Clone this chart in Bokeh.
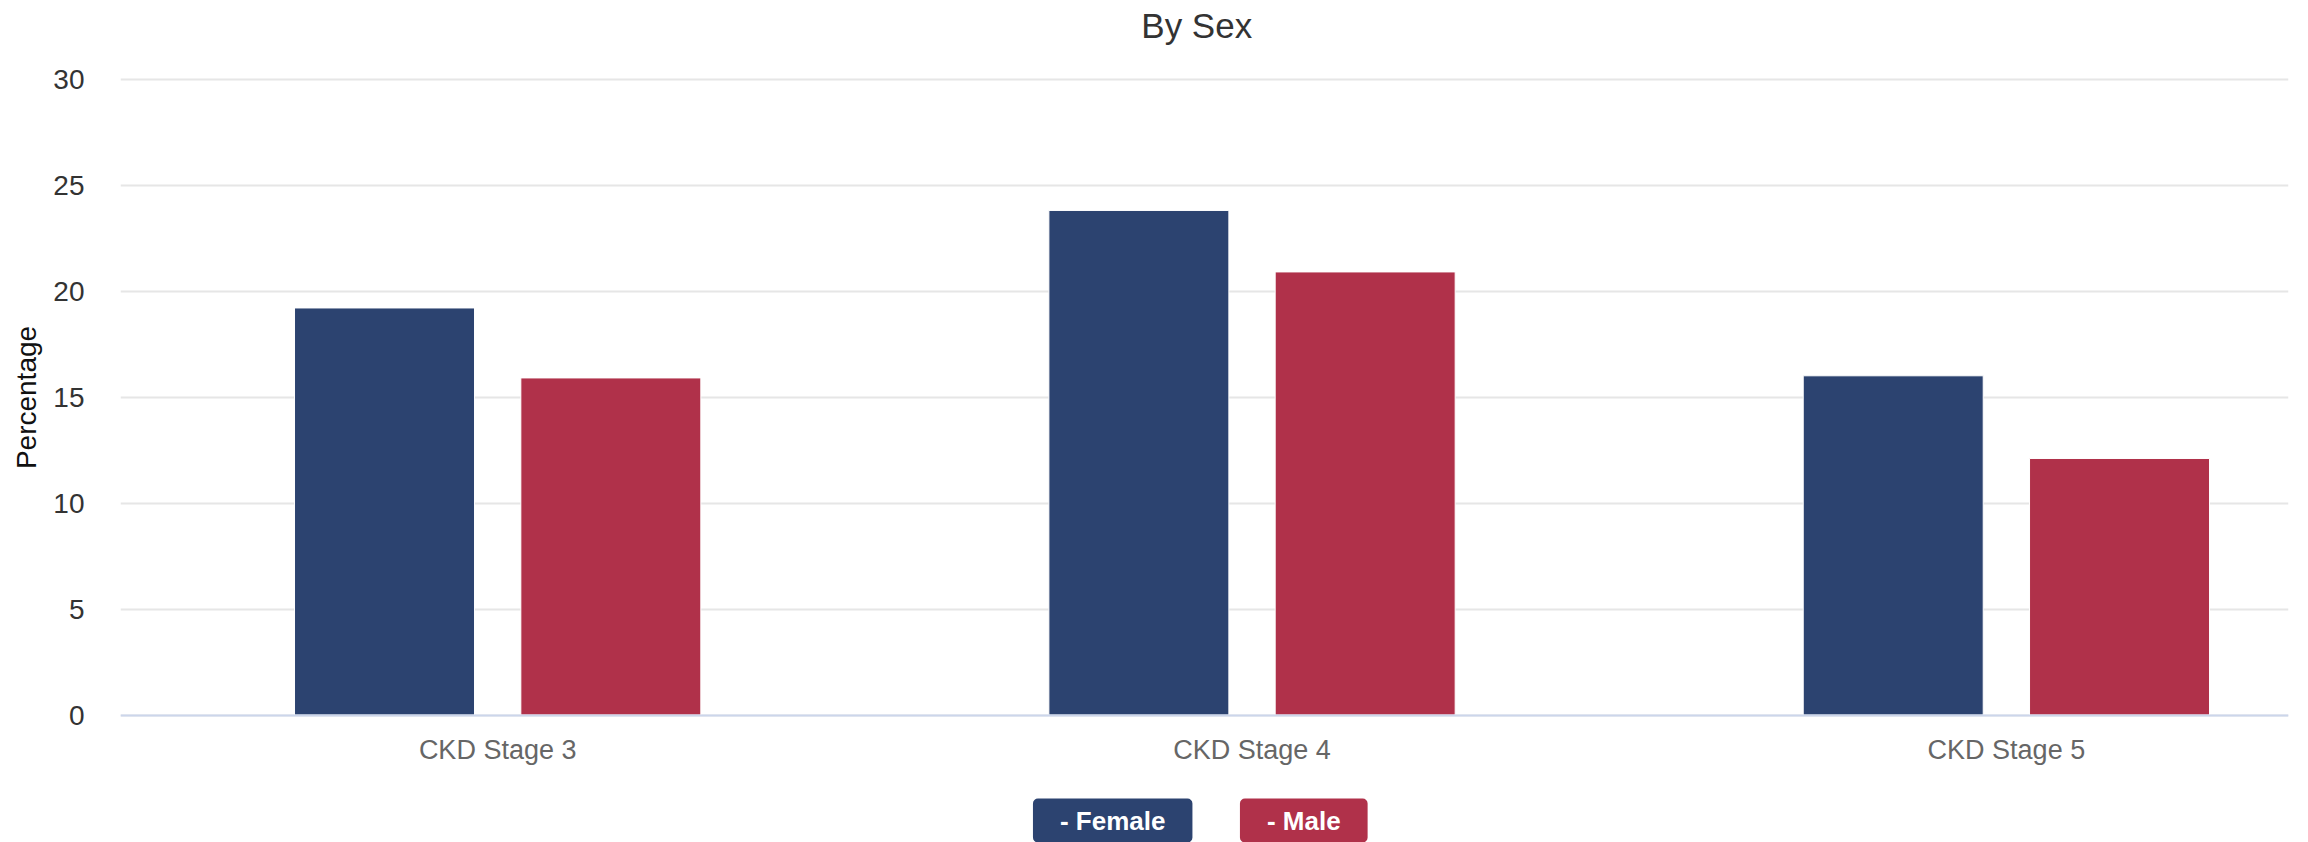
from bokeh.plotting import figure
from bokeh.layouts import column
from bokeh.models import Range1d, FixedTicker, Label, ColumnDataSource
from bokeh.transform import dodge
from bokeh.embed import file_html
from bokeh.resources import INLINE

# ---- data ----
title_text = "By Sex"
categories = ["CKD Stage 3", "CKD Stage 4", "CKD Stage 5"]
series_names = ["Female", "Male"]
female = [19.2, 23.8, 16.0]
male = [15.9, 20.9, 12.1]
y_ticks = [0, 5, 10, 15, 20, 25, 30]
y_axis_title = "Percentage"

colors = ["#2c4370", "#b0314a"]
FONT = "Liberation Sans"

idx = list(range(len(categories)))
src = ColumnDataSource(dict(x=idx, Female=female, Male=male))

xr = Range1d(-0.5, 2.374)
p = figure(width=2308, height=794, output_backend="svg", toolbar_location=None,
           x_range=xr, y_range=Range1d(-3.75, 33.703),
           min_border_left=120, min_border_right=20, min_border_top=0, min_border_bottom=0)
p.outline_line_color = None
p.background_fill_color = "white"
p.border_fill_color = "white"

bar_w = 0.2386
offsets = [-0.15, 0.15]
for name, col, off in zip(series_names, colors, offsets):
    p.vbar(x=dodge("x", off, range=p.x_range), top=name, bottom=0, width=bar_w, source=src,
           fill_color=col, line_color="white", line_width=1)

# x axis (placed at y = 0 inside the plot area)
xa = p.xaxis[0]
xa.fixed_location = 0
xa.ticker = FixedTicker(ticks=idx)
xa.major_label_overrides = {i: c for i, c in zip(idx, categories)}
xa.major_tick_line_color = None
xa.minor_tick_line_color = None
xa.axis_line_color = "#ccd6eb"
xa.axis_line_width = 2
xa.major_label_text_font = FONT
xa.major_label_text_font_size = "27px"
xa.major_label_text_color = "#666666"
xa.major_label_standoff = 14

# y axis
ya = p.yaxis[0]
ya.ticker = FixedTicker(ticks=y_ticks)
ya.axis_line_color = None
ya.major_tick_line_color = None
ya.minor_tick_line_color = None
ya.major_label_text_font = FONT
ya.major_label_text_font_size = "28px"
ya.major_label_text_color = "#333333"
ya.major_label_standoff = 30
ya.axis_label = y_axis_title
ya.axis_label_text_font = FONT
ya.axis_label_text_font_size = "28px"
ya.axis_label_text_font_style = "normal"
ya.axis_label_text_color = "#111111"
ya.axis_label_standoff = 8

p.xgrid.grid_line_color = None
p.ygrid.grid_line_color = "#e6e6e6"
p.ygrid.grid_line_width = 2
p.ygrid.ticker = FixedTicker(ticks=y_ticks)

# title
p.add_layout(Label(text=title_text, x=0.9267, y=32.54,
                   text_align="center", text_baseline="alphabetic",
                   text_font=FONT, text_font_size="35px", text_color="#333333"))

# legend strip below the chart
lg = figure(width=2308, height=48, output_backend="svg", toolbar_location=None,
            x_range=xr, y_range=Range1d(0, 1), x_axis_type=None, y_axis_type=None,
            min_border_left=120, min_border_right=20, min_border_top=0, min_border_bottom=0)
lg.outline_line_color = None
lg.background_fill_color = "white"
lg.border_fill_color = "white"
leg_x = [0.8153, 1.0686]
leg_y = 0.458
for name, col, lx in zip(series_names, colors, leg_x):
    lg.add_layout(Label(text="- " + name, x=lx, y=leg_y, x_offset=4, y_offset=-4,
                        text_align="center", text_baseline="middle",
                        text_font=FONT, text_font_size="26px", text_font_style="bold",
                        text_color="white", text_alpha=0.0,
                        background_fill_color="#777777", background_fill_alpha=0.3,
                        padding=(27, 7), border_radius=5))
    lg.add_layout(Label(text="- " + name, x=lx, y=leg_y,
                        text_align="center", text_baseline="middle",
                        text_font=FONT, text_font_size="26px", text_font_style="bold",
                        text_color="white",
                        background_fill_color=col, padding=(27, 7), border_radius=5))

layout = column(p, lg, spacing=0)
open("out.html", "w").write(file_html(layout, INLINE))
